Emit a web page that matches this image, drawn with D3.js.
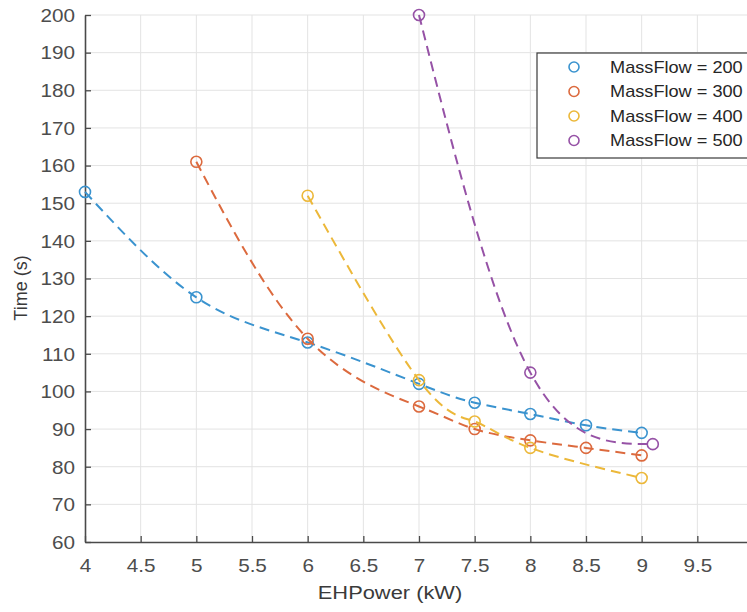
<!DOCTYPE html>
<html>
<head>
<meta charset="utf-8">
<script src="https://cdn.jsdelivr.net/npm/d3@7"></script>
<style>
	body { margin: 0; background: #fff; }
	svg { display: block; font-family: "Liberation Sans", Arial, sans-serif; }
</style>
</head>
<body>
<script>
(function () {
	"use strict";

	// data
	let seriesNames = ['MassFlow = 200', 'MassFlow = 300', 'MassFlow = 400', 'MassFlow = 500'];
	let colors = ['#3a93cf', '#dc6a3e', '#ecb83a', '#9652a6'];

	let power200 = [4, 5, 6, 7, 7.5, 8, 8.5, 9];
	let time200 = [153, 125, 113, 102, 97, 94, 91, 89];

	let power300 = [5, 6, 7, 7.5, 8, 8.5, 9];
	let time300 = [161, 114, 96, 90, 87, 85, 83];

	let power400 = [6, 7, 7.5, 8, 9];
	let time400 = [152, 103, 92, 85, 77];

	let power500 = [7, 8, 9.1];
	let time500 = [200, 105, 86];

	let xTicks = [4, 4.5, 5, 5.5, 6, 6.5, 7, 7.5, 8, 8.5, 9, 9.5];
	let yTicks = [60, 70, 80, 90, 100, 110, 120, 130, 140, 150, 160, 170, 180, 190, 200];

	let series = [
		{ name: seriesNames[0], xs: power200, ys: time200 },
		{ name: seriesNames[1], xs: power300, ys: time300 },
		{ name: seriesNames[2], xs: power400, ys: time400 },
		{ name: seriesNames[3], xs: power500, ys: time500 }
	];

	let w = 747;
	let h = 612;
	let left = 85, top = 15, right = 753, bottom = 542;
	let sx = 'scale(1.15,1)';

	let x = d3.scaleLinear().domain([4, 10]).range([left, right]);
	let y = d3.scaleLinear().domain([60, 200]).range([bottom, top]);

	let svg = d3.select('body').append('svg').attr('width', w).attr('height', h);

	// grid
	svg.append('g').selectAll('line').data(xTicks.slice(1)).enter().append('line')
		.attr('x1', d => x(d)).attr('x2', d => x(d))
		.attr('y1', top).attr('y2', bottom)
		.attr('stroke', '#e3e3e3').attr('stroke-width', 1);
	svg.append('g').selectAll('line').data(yTicks.slice(1)).enter().append('line')
		.attr('x1', left).attr('x2', right)
		.attr('y1', d => y(d)).attr('y2', d => y(d))
		.attr('stroke', '#e3e3e3').attr('stroke-width', 1);

	// axes
	let xAxis = svg.append('g').attr('transform', 'translate(0,' + bottom + ')')
		.call(d3.axisBottom(x).tickValues(xTicks).tickFormat(d3.format('')).tickSizeInner(-6).tickSizeOuter(0).tickPadding(19));
	let yAxis = svg.append('g').attr('transform', 'translate(' + left + ',0)')
		.call(d3.axisLeft(y).tickValues(yTicks).tickSizeInner(-6).tickSizeOuter(0).tickPadding(16));

	[xAxis, yAxis].forEach(function (a) {
		a.select('.domain').attr('stroke', '#4a4a4a').attr('stroke-width', 1.6);
		a.selectAll('.tick line').attr('stroke', '#4a4a4a').attr('stroke-width', 1.3);
		a.selectAll('text').attr('fill', '#4d4d4d').style('font-size', '18px')
			.attr('transform', sx);
	});
	yAxis.selectAll('text').attr('x', -10 / 1.15).attr('dy', '0.35em');
	xAxis.selectAll('text').attr('dy', '0.71em').attr('y', 17);

	// axis labels
	svg.append('text')
		.attr('transform', 'translate(390,599) ' + sx)
		.attr('text-anchor', 'middle').attr('fill', '#3a3a3a').style('font-size', '19px')
		.text('EHPower (kW)');
	svg.append('text')
		.attr('transform', 'translate(27,288) rotate(-90)')
		.attr('text-anchor', 'middle').attr('fill', '#3a3a3a').style('font-size', '18px')
		.text('Time (s)');

	// curves
	let line = d3.line()
		.x(d => x(d[0]))
		.y(d => y(d[1]))
		.curve(d3.curveNatural);

	series.forEach(function (s, i) {
		let pts = s.xs.map((v, j) => [v, s.ys[j]]);
		svg.append('path')
			.datum(pts)
			.attr('d', line)
			.attr('fill', 'none')
			.attr('stroke', colors[i])
			.attr('stroke-width', 2)
			.attr('stroke-dasharray', '10,6');
		svg.append('g').selectAll('circle').data(pts).enter().append('circle')
			.attr('cx', d => x(d[0]))
			.attr('cy', d => y(d[1]))
			.attr('r', 5.5)
			.attr('fill', 'none')
			.attr('stroke', colors[i])
			.attr('stroke-width', 1.6);
	});

	// legend
	let lg = svg.append('g');
	lg.append('rect')
		.attr('x', 537).attr('y', 53).attr('width', 230).attr('height', 105)
		.attr('fill', '#fff').attr('stroke', '#3a3a3a').attr('stroke-width', 1.2);
	seriesNames.forEach(function (name, i) {
		let ly = 67 + i * 24.5;
		lg.append('circle')
			.attr('cx', 574).attr('cy', ly).attr('r', 5)
			.attr('fill', 'none').attr('stroke', colors[i]).attr('stroke-width', 1.6);
		lg.append('text')
			.attr('transform', 'translate(610,' + ly + ') ' + sx)
			.attr('dy', '0.36em')
			.attr('fill', '#262626').style('font-size', '15.8px')
			.text(name);
	});
})();
</script>
</body>
</html>
